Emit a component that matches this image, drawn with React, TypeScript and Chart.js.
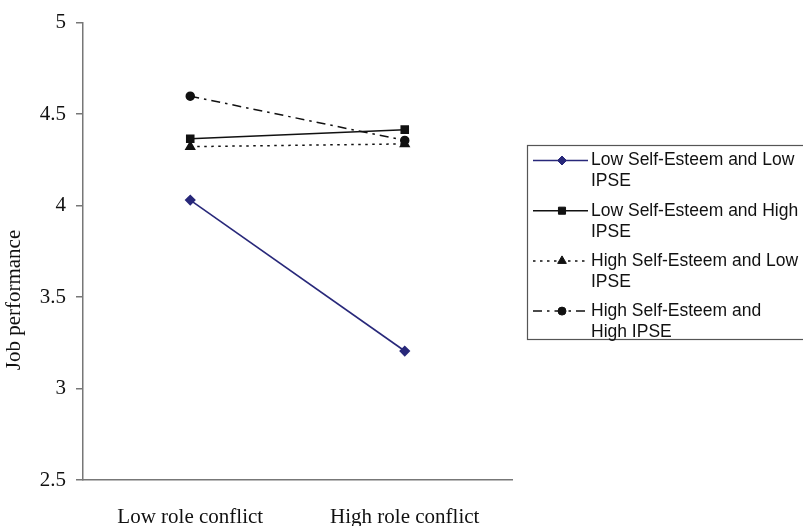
import React, { useEffect, useRef } from "react";
import { Chart, registerables } from "chart.js";
import { drawPoint } from "chart.js/helpers";

Chart.register(...registerables);

const categories = ["Low role conflict", "High role conflict"];
const lowSELowIPSE = [4.03, 3.205];
const lowSEHighIPSE = [4.365, 4.415];
const highSELowIPSE = [4.322, 4.337];
const highSEHighIPSE = [4.598, 4.356];
const legendLines = [
  ["Low Self-Esteem and Low", "IPSE"],
  ["Low Self-Esteem and High", "IPSE"],
  ["High Self-Esteem and Low", "IPSE"],
  ["High Self-Esteem and", "High IPSE"],
];
const yTitle = "Job performance";

const serif = "'Liberation Serif', 'Times New Roman', serif";
const sans = "'Liberation Sans', Arial, sans-serif";

const yTitlePlugin = {
  id: "yTitlePlugin",
  afterDraw(chart: any) {
    const ctx = chart.ctx;
    ctx.save();
    ctx.translate(14, 300);
    ctx.rotate(-Math.PI / 2);
    ctx.font = `21px ${serif}`;
    ctx.fillStyle = "#111";
    ctx.textAlign = "center";
    ctx.textBaseline = "middle";
    ctx.fillText(yTitle, 0, 0);
    ctx.restore();
  },
};

const legendPlugin = {
  id: "boxLegend",
  afterDraw(chart: any) {
    const ctx = chart.ctx;
    const left = 527;
    const top = 145;
    const bottom = 339;
    ctx.save();
    ctx.strokeStyle = "#555";
    ctx.lineWidth = 1.2;
    ctx.strokeRect(left + 0.5, top + 0.5, 400, bottom - top);
    chart.data.datasets.forEach((ds: any, i: number) => {
      const y = 160.5 + i * 50.2;
      ctx.save();
      ctx.strokeStyle = ds.borderColor;
      ctx.lineWidth = ds.borderWidth;
      ctx.setLineDash(ds.borderDash || []);
      ctx.beginPath();
      ctx.moveTo(533, y);
      ctx.lineTo(588, y);
      ctx.stroke();
      ctx.setLineDash([]);
      ctx.fillStyle = ds.pointBackgroundColor;
      ctx.strokeStyle = ds.pointBorderColor;
      ctx.lineWidth = 1;
      drawPoint(ctx, { pointStyle: ds.pointStyle, radius: ds.pointRadius, rotation: 0, borderWidth: 1 }, 562, y);
      ctx.restore();
      ctx.font = `17.5px ${sans}`;
      ctx.fillStyle = "#111";
      ctx.textAlign = "left";
      ctx.textBaseline = "middle";
      legendLines[i].forEach((line, j) => {
        ctx.fillText(line, 591, y + j * 21);
      });
    });
    ctx.restore();
  },
};

export default function App() {
  const ref = useRef<HTMLCanvasElement>(null);
  useEffect(() => {
    if (!ref.current) return;
    const chart = new Chart(ref.current, {
      type: "line",
      data: {
        labels: categories,
        datasets: [
          {
            label: legendLines[0].join(" "),
            data: lowSELowIPSE,
            borderColor: "#28287a",
            backgroundColor: "#28287a",
            pointBackgroundColor: "#28287a",
            pointBorderColor: "#28287a",
            pointStyle: "rectRot",
            pointRadius: 4.5,
            borderWidth: 1.6,
            borderDash: [],
          },
          {
            label: legendLines[1].join(" "),
            data: lowSEHighIPSE,
            borderColor: "#111",
            backgroundColor: "#111",
            pointBackgroundColor: "#111",
            pointBorderColor: "#111",
            pointStyle: "rect",
            pointRadius: 5,
            borderWidth: 1.5,
            borderDash: [],
          },
          {
            label: legendLines[2].join(" "),
            data: highSELowIPSE,
            borderColor: "#111",
            backgroundColor: "#111",
            pointBackgroundColor: "#111",
            pointBorderColor: "#111",
            pointStyle: "triangle",
            pointRadius: 5,
            borderWidth: 1.5,
            borderDash: [2.5, 4.5],
          },
          {
            label: legendLines[3].join(" "),
            data: highSEHighIPSE,
            borderColor: "#111",
            backgroundColor: "#111",
            pointBackgroundColor: "#111",
            pointBorderColor: "#111",
            pointStyle: "circle",
            pointRadius: 4,
            borderWidth: 1.5,
            borderDash: [9, 5, 2.5, 5],
          },
        ],
      },
      options: {
        responsive: false,
        animation: false,
        devicePixelRatio: 1,
        layout: { padding: { left: 0, right: 291, top: 14, bottom: 0 } },
        plugins: {
          legend: { display: false },
          tooltip: { enabled: false },
        },
        elements: { line: { tension: 0 } },
        scales: {
          x: {
            offset: true,
            grid: { display: false, drawTicks: false },
            border: { display: true, color: "#777", width: 1.5 },
            ticks: {
              font: { family: serif, size: 21 },
              color: "#111",
              padding: 25,
              maxRotation: 0,
            },
            afterFit(scale: any) {
              scale.height = 46;
            },
          },
          y: {
            min: 2.5,
            max: 5,
            grid: {
              display: true,
              drawOnChartArea: false,
              drawTicks: true,
              tickLength: 7,
              color: "#777",
              lineWidth: 1.5,
            },
            border: { display: true, color: "#777", width: 1.5 },
            ticks: {
              stepSize: 0.5,
              font: { family: serif, size: 21 },
              color: "#111",
              padding: 10,
              callback: (v: any) => String(Number(v)),
            },
            afterFit(scale: any) {
              scale.width = 83;
            },
          },
        },
      },
      plugins: [yTitlePlugin, legendPlugin],
    });
    return () => chart.destroy();
  }, []);
  return (
    <div style={{ position: "fixed", left: 0, top: 0, width: 803, height: 526, background: "#fff" }}>
      <canvas ref={ref} width={803} height={526} style={{ display: "block" }} />
    </div>
  );
}
